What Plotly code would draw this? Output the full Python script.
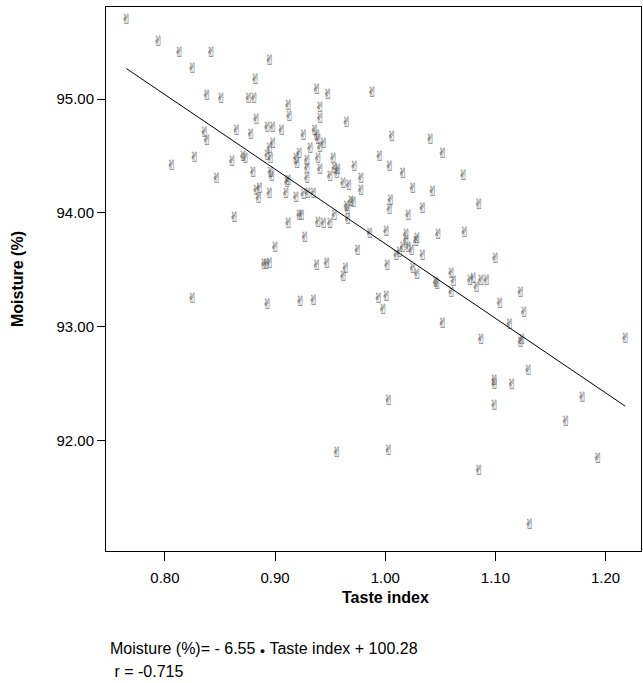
import plotly.graph_objects as go

taste_index = [
    0.765, 0.794, 0.813, 0.842, 0.825, 0.895, 0.882, 0.838, 0.851, 0.876,
    0.881, 0.912, 0.913, 0.883, 0.865, 0.878, 0.893, 0.898, 0.906, 0.836,
    0.838, 0.938, 0.926, 0.827, 0.806, 0.861, 0.871, 0.873, 0.893, 0.895,
    0.898, 0.896, 0.880, 0.896, 0.897, 0.919, 0.920, 0.922, 0.847, 0.912,
    0.883, 0.886, 0.885, 0.895, 0.910, 0.919, 0.926, 0.930, 0.935, 0.911,
    0.948, 0.988, 0.941, 0.941, 0.965, 0.936, 0.938, 0.939, 0.944, 0.941,
    0.932, 1.006, 1.041, 0.995, 1.052, 1.004, 1.016, 1.071, 0.939, 0.929,
    0.929, 0.953, 0.941, 0.954, 0.957, 0.956, 0.972, 0.950, 0.929, 0.978,
    0.962, 0.967, 0.978, 0.969, 0.971, 0.966, 0.965, 1.005, 1.004, 1.025,
    1.021, 0.954, 0.966, 0.924, 0.939, 0.944, 0.950, 0.986, 1.001, 0.927,
    1.019, 1.019, 0.975, 1.010, 1.013, 1.016, 1.021, 1.024, 0.938, 0.947,
    1.002, 0.964, 0.962, 1.025, 1.043, 1.085, 1.034, 1.072, 1.048, 1.029,
    1.028, 1.034, 1.100, 1.029, 1.060, 1.062, 1.046, 1.047, 1.077, 1.080,
    1.083, 1.087, 1.092, 1.060, 1.123, 1.104, 1.126, 1.052, 1.113, 0.863,
    0.912, 0.922, 0.900, 0.892, 0.895, 0.890, 0.825, 0.893, 0.923, 0.935,
    0.994, 1.001, 0.998, 1.087, 1.124, 1.123, 1.218, 1.130, 1.099, 1.099,
    1.115, 1.003, 1.099, 1.179, 1.164, 0.956, 1.003, 1.085, 1.193, 1.131,
]
moisture = [
    95.69, 95.50, 95.40, 95.40, 95.26, 95.33, 95.16, 95.02, 95.00, 95.00,
    95.00, 94.94, 94.84, 94.81, 94.72, 94.68, 94.74, 94.74, 94.72, 94.70,
    94.63, 95.08, 94.67, 94.48, 94.41, 94.44, 94.49, 94.47, 94.50, 94.56,
    94.60, 94.47, 94.35, 94.35, 94.31, 94.47, 94.43, 94.51, 94.29, 94.28,
    94.19, 94.21, 94.12, 94.16, 94.16, 94.13, 94.15, 94.16, 94.16, 94.26,
    95.03, 95.05, 94.92, 94.82, 94.79, 94.72, 94.67, 94.64, 94.60, 94.57,
    94.56, 94.66, 94.64, 94.49, 94.51, 94.40, 94.34, 94.32, 94.47, 94.45,
    94.38, 94.47, 94.37, 94.38, 94.37, 94.34, 94.40, 94.31, 94.29, 94.29,
    94.25, 94.23, 94.19, 94.09, 94.08, 94.02, 94.05, 94.10, 94.02, 94.21,
    93.97, 93.97, 93.93, 93.97, 93.91, 93.90, 93.90, 93.81, 93.83, 93.78,
    93.80, 93.75, 93.66, 93.62, 93.64, 93.69, 93.69, 93.66, 93.53, 93.55,
    93.53, 93.50, 93.43, 93.50, 94.18, 94.07, 94.03, 93.82, 93.80, 93.77,
    93.74, 93.62, 93.59, 93.45, 93.46, 93.39, 93.38, 93.36, 93.40, 93.42,
    93.34, 93.40, 93.40, 93.29, 93.29, 93.20, 93.12, 93.02, 93.01, 93.95,
    93.90, 93.97, 93.69, 93.54, 93.55, 93.54, 93.24, 93.19, 93.21, 93.22,
    93.24, 93.26, 93.14, 92.88, 92.88, 92.85, 92.89, 92.61, 92.52, 92.48,
    92.48, 92.34, 92.30, 92.37, 92.16, 91.89, 91.90, 91.73, 91.83, 91.25,
]

slope = -6.55
intercept = 100.28
x_ticks = [0.80, 0.90, 1.00, 1.10, 1.20]
y_ticks = [92.00, 93.00, 94.00, 95.00]

fit_x = [min(taste_index), max(taste_index)]
fit_y = [slope * v + intercept for v in fit_x]

FONT = "Liberation Sans, Arial, sans-serif"

fig = go.Figure()
fig.add_trace(go.Scatter(
    x=taste_index, y=moisture, mode="text",
    text=["\u270C"] * len(taste_index),
    textposition="middle center",
    textfont=dict(family="DejaVu Sans", size=14, color="#555555"),
    hoverinfo="x+y", showlegend=False,
))
fig.add_trace(go.Scatter(
    x=fit_x, y=fit_y, mode="lines",
    line=dict(color="black", width=1), showlegend=False,
))

fig.update_layout(
    width=643, height=683,
    margin=dict(l=106, r=2, t=7, b=132),
    paper_bgcolor="white", plot_bgcolor="white",
    font=dict(family=FONT, color="black"),
    xaxis=dict(
        range=[0.7465, 1.2322], tickvals=x_ticks,
        ticktext=[f"{v:.2f}" for v in x_ticks],
        ticks="outside", ticklen=9, tickwidth=1, tickcolor="black",
        ticklabelstandoff=4,
        showline=True, linecolor="black", linewidth=1, mirror=True,
        showgrid=False, zeroline=False,
        tickfont=dict(size=15, family=FONT),
    ),
    yaxis=dict(
        range=[91.03, 95.81], tickvals=y_ticks,
        ticktext=[f"{v:.2f}" for v in y_ticks],
        ticks="outside", ticklen=8, tickwidth=1, tickcolor="black",
        showline=True, linecolor="black", linewidth=1, mirror=True,
        showgrid=False, zeroline=False,
        tickfont=dict(size=15, family=FONT),
        title=dict(text="<b>Moisture (%)</b>", font=dict(size=16, family=FONT), standoff=28),
    ),
    annotations=[
        dict(text="<b>Taste index</b>", xref="x", yref="paper", x=1.00, y=0,
             yshift=-46, showarrow=False, font=dict(size=16, family=FONT),
             xanchor="center", yanchor="middle"),
        dict(text="Moisture (%)= - 6.55 <span style='font-size:9px'>\u25CF</span> Taste index + 100.28",
             xref="paper", yref="paper", x=0, y=0, xshift=2, yshift=-97,
             showarrow=False, font=dict(size=16, family=FONT),
             xanchor="left", yanchor="middle"),
        dict(text=" r = -0.715", xref="paper", yref="paper", x=0, y=0,
             xshift=2, yshift=-120, showarrow=False,
             font=dict(size=16, family=FONT), xanchor="left", yanchor="middle"),
    ],
)

# the page body carries a default 8px margin; remove it so the figure fills the window
fig.write_html("out.html", config={"displayModeBar": False},
               post_script="document.body.style.margin='0px';")
